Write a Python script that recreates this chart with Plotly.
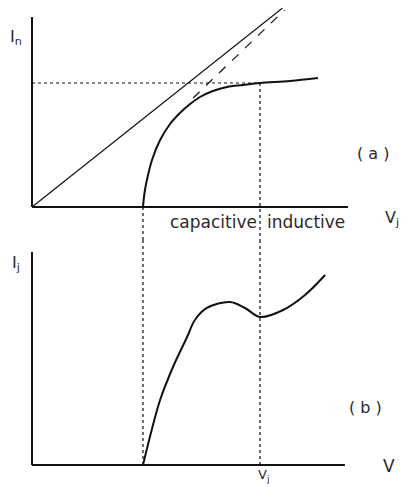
import plotly.graph_objects as go

# (a) normalised current I_n against junction voltage V_j
lin_v = [0.0, 8.35]
lin_i = [0.0, 9.95]
dash_v = [5.37, 8.42]
dash_i = [5.45, 9.85]
sat_v = [3.7, 3.75, 3.83, 4.0, 4.27, 4.6, 4.93, 5.27, 5.6, 6.03, 6.5, 7.03, 7.6, 8.6, 9.53]
sat_i = [0.0, 0.7, 1.35, 2.35, 3.35, 4.15, 4.7, 5.15, 5.5, 5.8, 6.0, 6.1, 6.2, 6.3, 6.45]
knee_level = 6.2

# (b) junction current I_j against V
ij_v = [3.7, 3.93, 4.27, 4.7, 5.17, 5.43, 5.83, 6.6, 7.1, 7.6, 8.37, 9.1, 9.77]
ij_i = [0.0, 1.4, 3.25, 4.9, 6.4, 7.25, 7.85, 8.15, 7.85, 7.4, 7.75, 8.5, 9.5]

v_onset = 3.7
v_j = 7.6

# axis lengths (data units)
a_xlen, a_ylen = 10.53, 9.5
b_xlen, b_ylen = 10.43, 10.65

ink = "#111111"
txt = "#2a2a2a"
fnt = "DejaVu Sans"

fig = go.Figure()

def line(x, y, panel, width=2, dash="solid", shape="linear"):
    xa, ya = ("x", "y") if panel == "a" else ("x2", "y2")
    fig.add_trace(go.Scatter(x=x, y=y, mode="lines", xaxis=xa, yaxis=ya,
                             line=dict(color=ink, width=width, dash=dash, shape=shape),
                             hoverinfo="skip", showlegend=False))

# panel (a)
line([0, a_xlen], [0, 0], "a", 2)
line([0, 0], [0, a_ylen], "a", 2)
line(lin_v, lin_i, "a", 1.2)
line(dash_v, dash_i, "a", 1.2, "dash")
line(sat_v, sat_i, "a", 2, shape="spline")
line([0, v_j], [knee_level, knee_level], "a", 1.2, "dot")
line([v_j, v_j], [knee_level, -1.65], "a", 1.2, "dot")
line([v_onset, v_onset], [0, -1.65], "a", 1.2, "dot")

# panel (b)
line([0, b_xlen], [0, 0], "b", 2)
line([0, 0], [0, b_ylen], "b", 2)
line(ij_v, ij_i, "b", 2, shape="spline")
line([v_j, v_j], [11.25, 0], "b", 1.2, "dot")
line([v_onset, v_onset], [11.25, 0], "b", 1.2, "dot")

def label(text, x, y, panel, size=16, xanchor="center"):
    xa, ya = ("x", "y") if panel == "a" else ("x2", "y2")
    fig.add_annotation(text=text, x=x, y=y, xref=xa, yref=ya, showarrow=False,
                       xanchor=xanchor, font=dict(family=fnt, size=size, color=txt))

label("I<sub>n</sub>", -0.55, 8.5, "a")
label("( a )", 11.37, 2.65, "a")
label("capacitive", 7.57, -0.75, "a", size=17, xanchor="right")
label("inductive", 7.77, -0.75, "a", size=17, xanchor="left")
label("V<sub>j</sub>", 12.0, -0.6, "a")

label("I<sub>j</sub>", -0.55, 10.05, "b")
label("( b )", 11.1, 2.85, "b")
label("V", 11.9, -0.05, "b", size=17)
label("V<sub>j</sub>", 7.7, -0.55, "b", size=13)

# the page body has an 8px margin, so the figure is 8px smaller and the ranges start there
ax = dict(visible=False, showgrid=False, zeroline=False)
fig.update_layout(
    width=400, height=479,
    margin=dict(l=0, r=0, t=0, b=0),
    paper_bgcolor="white", plot_bgcolor="white",
    xaxis=dict(ax, range=[-0.8, 12.533], domain=[0, 1], anchor="y"),
    yaxis=dict(ax, range=[-1.65, 9.95], domain=[0.5157, 1], anchor="x"),
    xaxis2=dict(ax, range=[-0.8, 12.533], domain=[0, 1], anchor="y2"),
    yaxis2=dict(ax, range=[-1.1, 11.25], domain=[0, 0.5157], anchor="x2"),
)

fig.write_html("out.html")
